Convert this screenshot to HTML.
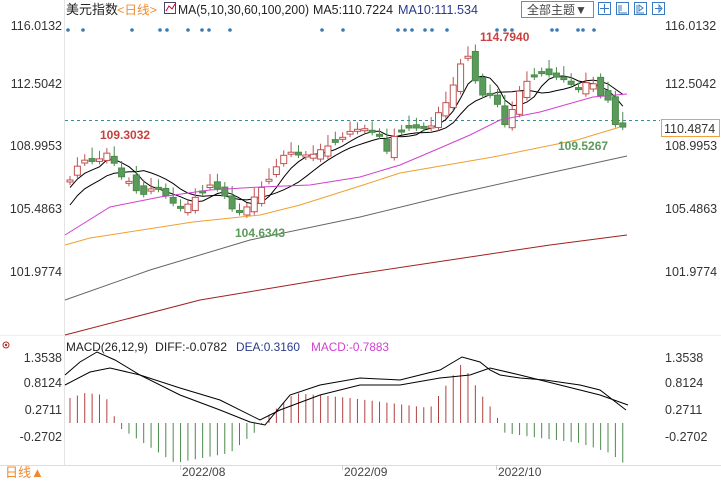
<!DOCTYPE html>
<html><head><meta charset="utf-8"><style>
body{margin:0;background:#fff;width:721px;height:481px;overflow:hidden;font-family:"Liberation Sans","Noto Sans CJK SC",sans-serif}
svg{position:absolute;left:0;top:0}
text{font-family:"Liberation Sans","Noto Sans CJK SC",sans-serif}
</style></head><body>
<svg width="721" height="481" viewBox="0 0 721 481" id="s">
<line x1="64.5" y1="0" x2="64.5" y2="465" stroke="#e4e4e4"/>
<line x1="0" y1="465.5" x2="721" y2="465.5" stroke="#ddd"/>
<line x1="0" y1="335.5" x2="721" y2="335.5" stroke="#eee"/>
<g font-size="12.5" fill="#333" text-anchor="end">
<text x="62" y="30">116.0132</text><text x="62" y="88">112.5042</text><text x="62" y="150">108.9953</text><text x="62" y="213">105.4863</text><text x="62" y="276">101.9774</text>
<text x="62" y="362">1.3538</text><text x="62" y="387">0.8124</text><text x="62" y="414">0.2711</text><text x="62" y="441">-0.2702</text>
</g>
<g font-size="12.5" fill="#333">
<text x="665" y="30">116.0132</text><text x="665" y="88">112.5042</text><text x="665" y="150">108.9953</text><text x="665" y="213">105.4863</text><text x="665" y="276">101.9774</text>
<text x="665" y="362">1.3538</text><text x="665" y="387">0.8124</text><text x="665" y="414">0.2711</text><text x="665" y="441">-0.2702</text>
</g>
<line x1="65" y1="120.5" x2="660" y2="120.5" stroke="#3a8a9a" stroke-dasharray="3,3"/>
<rect x="661.5" y="119.5" width="58" height="17" fill="#fff" stroke="#f0a040"/>
<text x="664" y="133" font-size="12.5" fill="#333">110.4874</text>
<g font-size="13">
<text x="66" y="14" fill="#222" textLength="52" lengthAdjust="spacingAndGlyphs">美元指数</text><text x="117" y="14" fill="#f08a30" font-size="12" textLength="40" lengthAdjust="spacingAndGlyphs">&lt;日线&gt;</text>
<rect x="164.5" y="2.5" width="11" height="11" fill="#fff" stroke="#446"/><path d="M166 11 L169 6 L172 9 L175 4" stroke="#c03" fill="none"/>
<text x="178" y="14" fill="#222" textLength="131" lengthAdjust="spacingAndGlyphs">MA(5,10,30,60,100,200)</text><text x="313" y="14" fill="#222" textLength="80" lengthAdjust="spacingAndGlyphs">MA5:110.7224</text><text x="398" y="14" fill="#2a3a8a" textLength="80" lengthAdjust="spacingAndGlyphs">MA10:111.534</text>
</g>
<rect x="521.5" y="1.5" width="72" height="16" fill="#fff" stroke="#888"/>
<text x="527" y="14" font-size="12" fill="#444">全部主题▼</text>
<g stroke="#3a7ac0" fill="none"><rect x="598.5" y="2.5" width="12" height="12"/><rect x="616.5" y="2.5" width="12" height="12"/><rect x="634.5" y="2.5" width="12" height="12"/><rect x="652.5" y="2.5" width="12" height="12"/>
<path d="M604.5 4v9M600 8.5h9M619 5v8h8M621 5v6M637 5v8h7M639 5v6l4-3zM655 8.5h6M659 5v7l3-3.5z"/></g>
<g font-size="12" fill="#222"><text x="66" y="351" textLength="82" lengthAdjust="spacingAndGlyphs">MACD(26,12,9)</text><text x="155" y="351" textLength="72" lengthAdjust="spacingAndGlyphs">DIFF:-0.0782</text><text x="236" y="351" fill="#2a3a8a" textLength="64" lengthAdjust="spacingAndGlyphs">DEA:0.3160</text><text x="311" y="351" fill="#d040d0" textLength="78" lengthAdjust="spacingAndGlyphs">MACD:-0.7883</text></g>
<circle cx="6" cy="345" r="3" fill="none" stroke="#b03030"/><circle cx="6" cy="345" r="1.2" fill="#b03030"/>
<text x="5" y="477" font-size="13" fill="#f08a30">日线▲</text>
<g font-size="12" fill="#444"><text x="182" y="476">2022/08</text><text x="344" y="476">2022/09</text><text x="498" y="476">2022/10</text></g>
<g stroke="#ccc"><line x1="180.5" y1="465" x2="180.5" y2="470"/><line x1="342.5" y1="465" x2="342.5" y2="470"/><line x1="496.5" y1="465" x2="496.5" y2="470"/></g>
<g id="ma"></g><g id="cd"></g><g id="hist"></g>
<polyline fill="none" stroke="#d040d0" points="65,235 110,207 160,197 210,190 260,187 310,185 360,177 400,165 440,148 470,135 500,120 540,112 593,97 627,94"/>
<polyline fill="none" stroke="#f0a030" points="65,245 90,238 193,222 260,215 300,205 360,186 400,173 493,157 577,140 620,127"/>
<polyline fill="none" stroke="#666" points="65,300 150,270 250,240 360,217 450,195 540,175 627,156"/>
<polyline fill="none" stroke="#a02020" points="65,335 200,300 350,275 450,260 550,245 627,235"/>
<polyline fill="none" stroke="#000" points="65,375 80,362 97,352 115,360 140,375 180,395 220,410 250,422 265,425 290,395 320,385 360,378 400,380 440,370 462,357 480,362 490,370 500,375 520,378 545,380 580,385 600,390 626,410"/>
<polyline fill="none" stroke="#000" points="65,385 90,372 110,368 140,375 180,388 220,400 260,420 280,410 320,395 360,385 400,385 440,378 470,375 490,368 520,375 560,385 600,395 628,405"/>
<g font-size="12" font-weight="bold"><text x="100" y="139" fill="#c84040">109.3032</text><text x="235" y="237" fill="#5a9a5a">104.6343</text><text x="480" y="41" fill="#c84040">114.7940</text><text x="558" y="150" fill="#5a9a5a">109.5267</text></g>
<g fill="#3a7ab0" id="dots"></g>
</svg>
<script>
(function(){
var NS="http://www.w3.org/2000/svg";
function el(p,t,a){var e=document.createElementNS(NS,t);for(var k in a)e.setAttribute(k,a[k]);document.getElementById(p).appendChild(e);return e;}
var kp=[[70,180],[78,165],[85,160],[95,162],[105,155],[110,150],[118,175],[128,180],[135,190],[145,195],[155,185],[165,195],[175,205],[185,210],[190,200],[200,195],[210,185],[220,190],[228,200],[235,215],[242,210],[250,205],[258,190],[265,185],[272,175],[280,160],[288,150],[295,155],[312,155],[320,150],[330,145],[340,140],[348,132],[362,128],[370,130],[380,135],[385,155],[395,135],[405,128],[430,128],[440,110],[448,100],[455,80],[462,60],[470,55],[475,80],[482,95],[490,95],[498,105],[505,125],[512,110],[520,90],[528,80],[542,72],[550,75],[565,80],[572,85],[580,90],[588,80],[595,85],[602,98],[608,100],[613,115],[618,135],[624,125]];
function interp(x){for(var i=0;i<kp.length-1;i++){if(x<=kp[i+1][0]){var a=kp[i],b=kp[i+1];return a[1]+(b[1]-a[1])*(x-a[0])/(b[0]-a[0]);}}return kp[kp.length-1][1];}
var N=76,cl=[],xs=[];
for(var i=0;i<N;i++){var x=70+i*7.37;xs.push(x);cl.push(interp(x));}
var prev=cl[0]+8;
for(var i=0;i<N;i++){var c=cl[i],o=prev+((i*37)%9-4)*1.6;var up=c<o;var tp=Math.min(o,c),bt=Math.max(o,c);if(bt-tp<2)bt=tp+2;
var hh=tp-4-((i*13)%8),ll=bt+3+((i*7)%7);
var col=up?"#c05050":"#4a8a4a";
el("cd","line",{x1:xs[i],x2:xs[i],y1:hh,y2:ll,stroke:col});
el("cd","rect",{x:xs[i]-3,y:tp,width:6,height:bt-tp,fill:up?"#fff":"#5a9a5a",stroke:col,"stroke-width":1});
prev=c;}
function ma(n){var p=[];for(var i=0;i<N;i++){var s=0,k=0;for(var j=Math.max(0,i-n+1);j<=i;j++){s+=cl[j];k++;}var v=s/k;if(i<n)v=v+(n-i)*(n==5?1.5:2.5);p.push(xs[i].toFixed(1)+","+v.toFixed(1));}return p.join(" ");}
el("ma","polyline",{points:ma(5),fill:"none",stroke:"#000"});
el("ma","polyline",{points:ma(10),fill:"none",stroke:"#000"});
var hk=[[70,-25],[85,-30],[105,-28],[115,-5],[120,5],[175,40],[230,30],[260,5],[265,-5],[295,-30],[350,-25],[430,-15],[462,-60],[480,-30],[495,-10],[505,10],[540,15],[580,20],[610,30],[626,42]];
function hv(x){for(var i=0;i<hk.length-1;i++){if(x<=hk[i+1][0]){var a=hk[i],b=hk[i+1];return a[1]+(b[1]-a[1])*(x-a[0])/(b[0]-a[0]);}}return hk[hk.length-1][1];}
for(var i=0;i<N;i++){var h=hv(xs[i]);el("hist","line",{x1:xs[i],x2:xs[i],y1:423,y2:423+h,stroke:h<0?"#b04040":"#4a8a4a"});}
var d=[68,83,132,160,167,188,202,209,230,322,343,398,405,412,425,432,447,497,505,512,552,557,578,583,594];
d.forEach(function(x){el("dots","circle",{cx:x,cy:30,r:1.8});});
})();
</script>
</body></html>
